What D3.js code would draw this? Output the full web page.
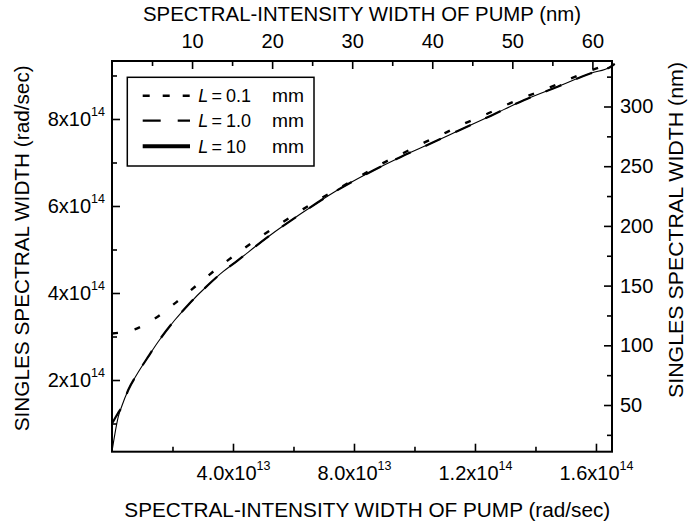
<!DOCTYPE html>
<html>
<head>
<meta charset="utf-8">
<script src="https://cdn.jsdelivr.net/npm/d3@7"></script>
<style>
  html, body { margin: 0; padding: 0; background: #fff; }
  svg { display: block; font-family: "Liberation Sans", Arial, Helvetica, sans-serif; }
  text { fill: #000; }
</style>
</head>
<body>
<svg id="chart" width="688" height="524"></svg>
<script>
// ---------------- DATA ----------------
// pump spectral-intensity width in units of 1e13 rad/s, singles width in units of 1e14 rad/s
const pumpDotted = [0, 0.752, 1.444, 2.12, 2.813, 3.47, 4.122, 4.834, 5.494, 6.209, 6.869, 7.585, 8.244, 8.903, 9.616, 10.275, 10.99, 11.65, 12.37, 13.03, 13.69, 14.40, 15.06, 15.77, 16.43];
const widthDotted = [3.069, 3.166, 3.425, 3.786, 4.184, 4.56, 4.90, 5.255, 5.56, 5.88, 6.16, 6.44, 6.70, 6.965, 7.211, 7.441, 7.671, 7.895, 8.108, 8.322, 8.513, 8.706, 8.897, 9.103, 9.257];

const pumpDashed = [0, 0.10, 0.20, 0.317, 0.537, 0.811, 1.197, 1.527, 2.077, 2.516, 3.176, 3.671, 4.066, 5.164, 6.265, 7.364, 8.462, 9.563, 10.55, 11.43, 12.53, 13.63, 14.73, 15.83, 16.49, 16.62];
const widthDashed = [1.00, 1.12, 1.24, 1.37, 1.77, 2.115, 2.536, 2.88, 3.379, 3.724, 4.184, 4.49, 4.70, 5.294, 5.832, 6.329, 6.752, 7.133, 7.441, 7.724, 8.076, 8.437, 8.743, 9.051, 9.202, 9.265];

const pumpSolid = [0, 0.099, 0.208, 0.317, 0.537, 0.811, 1.197, 1.527, 2.077, 2.516, 3.176, 3.671, 4.066, 5.164, 6.265, 7.364, 8.462, 9.563, 10.55, 11.43, 12.53, 13.63, 14.73, 15.83, 16.49, 16.62];
const widthSolid = [0.36, 0.775, 1.156, 1.386, 1.77, 2.115, 2.536, 2.88, 3.379, 3.724, 4.184, 4.49, 4.70, 5.294, 5.832, 6.329, 6.752, 7.133, 7.441, 7.724, 8.076, 8.437, 8.743, 9.051, 9.202, 9.265];

const seriesNames = ["0.1", "1.0", "10"];

// ticks
const xMajor = [4, 8, 12, 16];
const xMinor = [2, 6, 10, 14];
const xMant = ["4.0x10", "8.0x10", "1.2x10", "1.6x10"];
const xExp = ["13", "13", "14", "14"];
const yMajor = [2, 4, 6, 8];
const yMinor = [1, 3, 5, 7, 9];
const yMant = ["2x10", "4x10", "6x10", "8x10"];
const yExp = ["14", "14", "14", "14"];
const nmTopMajor = [10, 20, 30, 40, 50, 60];
const nmTopMinor = [5, 15, 25, 35, 45, 55];
const nmRightMajor = [50, 100, 150, 200, 250, 300];
const nmRightMinor = [25, 75, 125, 175, 225, 275, 325];

// ---------------- LAYOUT ----------------
const L = 112, R = 612, T = 61, B = 451.7;
const svg = d3.select("#chart");

const x = d3.scaleLinear().domain([0, 16.53]).range([L, R]);
const xTop = d3.scaleLinear().domain([0, 62.45]).range([L, R]);
const y = d3.scaleLinear().domain([0.352, 9.333]).range([B, T]);
const yRight = d3.scaleLinear().domain([10.9, 338.1]).range([B, T]);

const tickFont = 20;

function styleAxis(g) {
  g.select(".domain").remove();
  g.selectAll(".tick line").attr("stroke", "#000").attr("stroke-width", 1.6);
  g.selectAll("text").attr("font-size", tickFont).attr("fill", "#000");
}
function supLabels(g, mant, exp, supDy) {
  g.selectAll(".tick text").each(function(d, i) {
    const t = d3.select(this);
    t.text(null);
    t.append("tspan").text(mant[i]);
    t.append("tspan").attr("dy", supDy).attr("font-size", 12.5).text(exp[i]);
  });
}

// bottom axis
const gB = svg.append("g").attr("transform", `translate(0,${B})`)
  .call(d3.axisBottom(x).tickValues(xMajor).tickSize(-8).tickSizeOuter(0).tickPadding(14));
styleAxis(gB);
supLabels(gB, xMant, xExp, -10);
gB.selectAll(".tick text").attr("text-anchor", "middle");
const gBm = svg.append("g").attr("transform", `translate(0,${B})`)
  .call(d3.axisBottom(x).tickValues(xMinor).tickSize(-5).tickSizeOuter(0).tickFormat(""));
styleAxis(gBm);

// left axis
const gL = svg.append("g").attr("transform", `translate(${L},0)`)
  .call(d3.axisLeft(y).tickValues(yMajor).tickSize(-8).tickSizeOuter(0).tickPadding(7));
styleAxis(gL);
supLabels(gL, yMant, yExp, -10);
const gLm = svg.append("g").attr("transform", `translate(${L},0)`)
  .call(d3.axisLeft(y).tickValues(yMinor).tickSize(-5).tickSizeOuter(0).tickFormat(""));
styleAxis(gLm);

// top axis (nm)
const gT = svg.append("g").attr("transform", `translate(0,${T})`)
  .call(d3.axisTop(xTop).tickValues(nmTopMajor).tickSize(-8).tickSizeOuter(0).tickPadding(13).tickFormat(d3.format("d")));
styleAxis(gT);
const gTm = svg.append("g").attr("transform", `translate(0,${T})`)
  .call(d3.axisTop(xTop).tickValues(nmTopMinor).tickSize(-5).tickSizeOuter(0).tickFormat(""));
styleAxis(gTm);

// right axis (nm)
const gR = svg.append("g").attr("transform", `translate(${R},0)`)
  .call(d3.axisRight(yRight).tickValues(nmRightMajor).tickSize(-8).tickSizeOuter(0).tickPadding(8).tickFormat(d3.format("d")));
styleAxis(gR);
const gRm = svg.append("g").attr("transform", `translate(${R},0)`)
  .call(d3.axisRight(yRight).tickValues(nmRightMinor).tickSize(-5).tickSizeOuter(0).tickFormat(""));
styleAxis(gRm);

// frame
svg.append("rect").attr("x", L).attr("y", T).attr("width", R - L).attr("height", B - T)
  .attr("fill", "none").attr("stroke", "#000").attr("stroke-width", 2);

// ---------------- CURVES ----------------
const line = d3.line().x(d => x(d[0])).y(d => y(d[1])).curve(d3.curveMonotoneX);
const zip = (a, b) => a.map((v, i) => [v, b[i]]);

svg.append("path").datum(zip(pumpSolid, widthSolid)).attr("d", line)
  .attr("fill", "none").attr("stroke", "#000").attr("stroke-width", 1.1);
svg.append("path").datum(zip(pumpDashed, widthDashed)).attr("d", line)
  .attr("fill", "none").attr("stroke", "#000").attr("stroke-width", 2.2).attr("stroke-dasharray", "17,16");
svg.append("path").datum(zip(pumpDotted, widthDotted)).attr("d", line)
  .attr("fill", "none").attr("stroke", "#000").attr("stroke-width", 2.4).attr("stroke-dasharray", "6,17");

// ---------------- LEGEND ----------------
const leg = svg.append("g");
leg.append("rect").attr("x", 127.3).attr("y", 77.3).attr("width", 186.7).attr("height", 88.7)
  .attr("fill", "#fff").attr("stroke", "#000").attr("stroke-width", 1.5);
const rowsY = [95.7, 120.7, 146.3];
const dashes = ["7,13", "18,17", null];
const widths = [2.6, 2.3, 4];
const legFont = 18;
seriesNames.forEach((nm, i) => {
  const ln = leg.append("line").attr("x1", 142.7).attr("x2", 190).attr("y1", rowsY[i]).attr("y2", rowsY[i])
    .attr("stroke", "#000").attr("stroke-width", widths[i]);
  if (dashes[i]) ln.attr("stroke-dasharray", dashes[i]);
  const ty = rowsY[i] + 6.6;
  leg.append("text").attr("x", 198.3).attr("y", ty).attr("font-size", legFont)
    .attr("font-style", "italic").text("L");
  leg.append("text").attr("x", 211.5).attr("y", ty).attr("font-size", legFont).text("=");
  leg.append("text").attr("x", 226).attr("y", ty).attr("font-size", legFont).text(nm);
  leg.append("text").attr("x", 304).attr("y", ty).attr("font-size", legFont)
    .attr("text-anchor", "end").attr("textLength", 32).attr("lengthAdjust", "spacingAndGlyphs").text("mm");
});

// ---------------- TITLES ----------------
svg.append("text").attr("x", 362).attr("y", 20.7).attr("text-anchor", "middle")
  .attr("font-size", 20).attr("textLength", 438).attr("lengthAdjust", "spacingAndGlyphs")
  .text("SPECTRAL-INTENSITY WIDTH OF PUMP (nm)");
svg.append("text").attr("x", 367.3).attr("y", 516.7).attr("text-anchor", "middle")
  .attr("font-size", 20.5).attr("textLength", 486).attr("lengthAdjust", "spacingAndGlyphs")
  .text("SPECTRAL-INTENSITY WIDTH OF PUMP (rad/sec)");
svg.append("text").attr("transform", "translate(28.5,248.3) rotate(-90)").attr("text-anchor", "middle")
  .attr("font-size", 21).attr("textLength", 366).attr("lengthAdjust", "spacingAndGlyphs")
  .text("SINGLES SPECTRAL WIDTH (rad/sec)");
svg.append("text").attr("transform", "translate(683,230) rotate(-90)").attr("text-anchor", "middle")
  .attr("font-size", 21).attr("textLength", 336).attr("lengthAdjust", "spacingAndGlyphs")
  .text("SINGLES SPECTRAL WIDTH (nm)");
</script>
</body>
</html>
